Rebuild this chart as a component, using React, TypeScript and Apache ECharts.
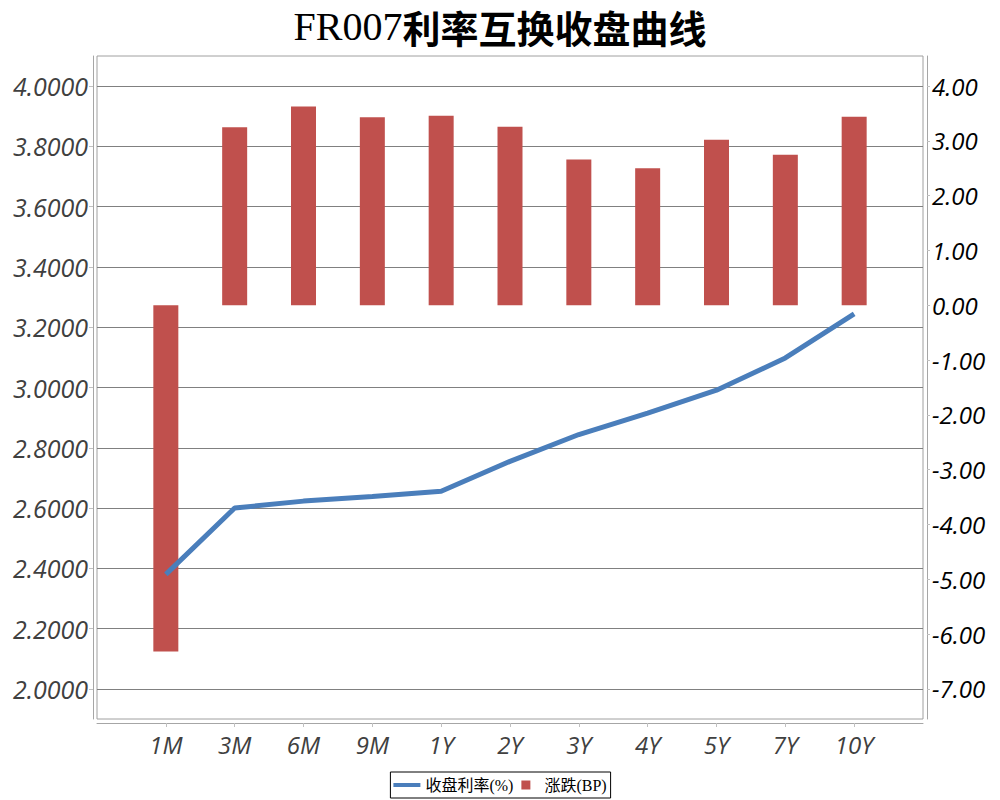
import React, { useEffect, useRef } from "react";
import * as echarts from "echarts";

const categories = ["1M", "3M", "6M", "9M", "1Y", "2Y", "3Y", "4Y", "5Y", "7Y", "10Y"];
const closeRate = [2.38, 2.6, 2.623, 2.638, 2.656, 2.755, 2.844, 2.915, 2.991, 3.098, 3.244];
const changeBP = [-6.32, 3.25, 3.63, 3.43, 3.46, 3.26, 2.66, 2.5, 3.02, 2.75, 3.44];
const leftTicks = [2.0, 2.2, 2.4, 2.6, 2.8, 3.0, 3.2, 3.4, 3.6, 3.8, 4.0];
const rightTicks = [-7, -6, -5, -4, -3, -2, -1, 0, 1, 2, 3, 4];

const lineName = "收盘利率(%)";
const barName = "涨跌(BP)";

export default function App() {
  const ref = useRef<HTMLDivElement>(null);
  useEffect(() => {
    if (!ref.current) return;
    const chart = echarts.init(ref.current, null, { renderer: "svg" });
    const xCats = ["", ...categories, ""];
    const lineData = [null, ...closeRate, null];
    const barData = [null, ...changeBP, null];
    const labelFont = "'Open Sans', 'DejaVu Sans', sans-serif";
    chart.setOption({
      animation: false,
      backgroundColor: "#ffffff",
      title: {
        left: "center",
        top: 4,
        padding: 0,
        text: "{a|FR007}{b|利率互换收盘曲线}",
        textStyle: {
          rich: {
            a: { fontFamily: "'Liberation Serif', serif", fontWeight: "normal", fontSize: 40, lineHeight: 44, color: "#000" },
            b: { fontFamily: "'Noto Sans CJK SC'", fontWeight: "bold", fontSize: 38, lineHeight: 44, color: "#000" },
          },
        },
      },
      legend: {
        bottom: 2,
        left: "center",
        padding: [5, 4, 5, 3],
        borderColor: "#000",
        borderWidth: 1,
        itemGap: 8,
        itemWidth: 27,
        itemHeight: 9,
        textStyle: { fontFamily: "'Liberation Serif', 'Noto Sans CJK SC', serif", fontSize: 16, color: "#000" },
        data: [
          { name: lineName, icon: "path://M0,0h27v4h-27z" },
          { name: barName, icon: "path://M0,0h9v9h-9z" },
        ],
      },
      grid: {
        left: 97,
        right: 77,
        top: 56,
        bottom: 81,
        show: true,
        borderColor: "#a0a0a0",
        borderWidth: 1,
        containLabel: false,
      },
      xAxis: {
        type: "category",
        data: xCats,
        boundaryGap: false,
        offset: 4,
        axisLine: { onZero: false, lineStyle: { color: "#a6a6a6", width: 1 } },
        axisTick: {
          show: true,
          length: 4,
          interval: (i: number) => i > 0 && i < xCats.length - 1,
          lineStyle: { color: "#c0c0c0" },
        },
        axisLabel: {
          interval: 0,
          margin: 9,
          fontFamily: labelFont,
          fontStyle: "italic",
          fontSize: 24,
          color: "#404040",
        },
        splitLine: { show: false },
      },
      yAxis: [
        {
          type: "value",
          position: "left",
          min: 1.9,
          max: 4.1,
          offset: 4,
          axisLine: { show: true, lineStyle: { color: "#a6a6a6" } },
          axisTick: { show: true, length: 4, customValues: leftTicks, lineStyle: { color: "#c0c0c0" } },
          axisLabel: {
            customValues: leftTicks,
            margin: 5,
            fontFamily: labelFont,
            fontStyle: "italic",
            fontSize: 25,
            color: "#404040",
            formatter: (v: number) => v.toFixed(4),
          },
          splitLine: { show: true, lineStyle: { color: "#808080", width: 1 } },
        },
        {
          type: "value",
          position: "right",
          min: -7.55,
          max: 4.55,
          offset: 4,
          axisLine: { show: true, lineStyle: { color: "#a6a6a6" } },
          axisTick: { show: true, length: 3, customValues: rightTicks, lineStyle: { color: "#c0c0c0" } },
          axisLabel: {
            customValues: rightTicks,
            margin: 5,
            fontFamily: labelFont,
            fontStyle: "italic",
            fontSize: 24,
            color: "#000",
            formatter: (v: number) => v.toFixed(2),
          },
          splitLine: { show: false },
        },
      ],
      series: [
        {
          name: barName,
          type: "bar",
          yAxisIndex: 1,
          data: barData,
          barWidth: 25,
          itemStyle: { color: "#c0504d" },
          z: 2,
        },
        {
          name: lineName,
          type: "line",
          yAxisIndex: 0,
          data: lineData,
          showSymbol: false,
          symbol: "none",
          lineStyle: { color: "#4a7ebb", width: 5 },
          itemStyle: { color: "#4a7ebb" },
          z: 3,
        },
      ],
    });
    return () => chart.dispose();
  }, []);
  return <div ref={ref} style={{ width: 1000, height: 800, position: "absolute", left: 0, top: 0 }} />;
}
